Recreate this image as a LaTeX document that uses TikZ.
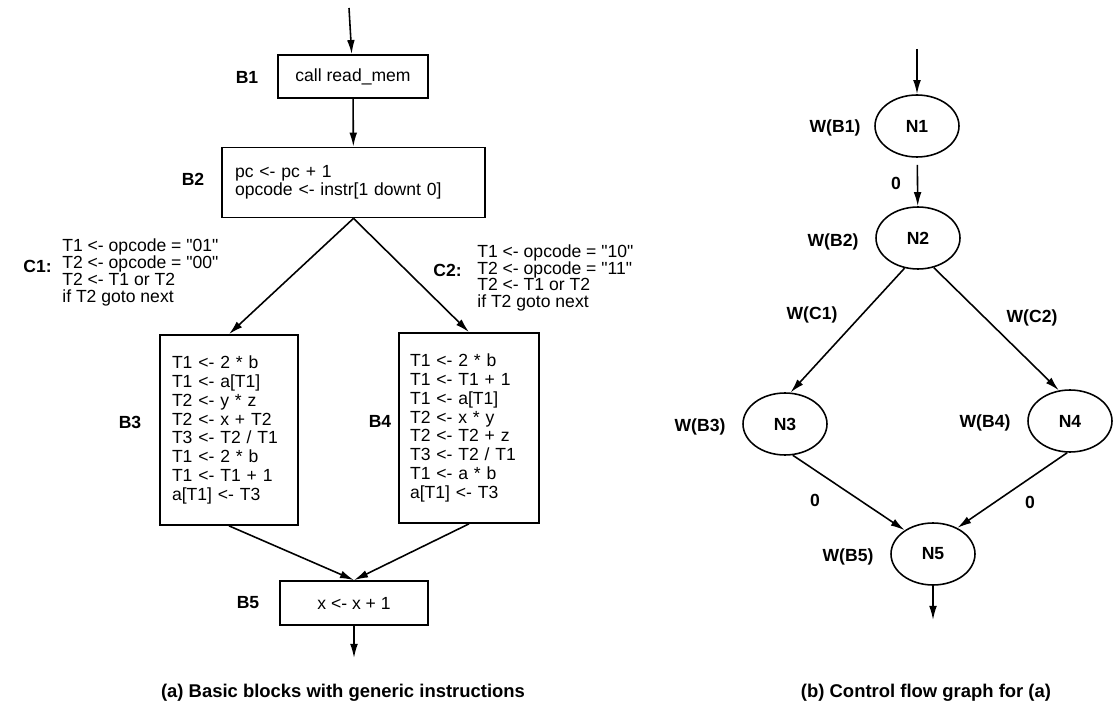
\documentclass[tikz,border=0pt]{standalone}
\usepackage{fontspec}
\setmainfont{Liberation Sans}[Ligatures=TeXOff]
\usetikzlibrary{arrows.meta,shapes.geometric}

\begin{document}
\begin{tikzpicture}[x=0.02cm,y=-0.02cm,
   blk/.style={rectangle,draw,line width=1pt,inner sep=0pt,
     font=\fontsize{10}{10.7}\selectfont},
   code/.style={blk,align=left,inner xsep=0.24cm},
   cond/.style={align=left,inner sep=0pt,anchor=west,
     font=\fontsize{10}{9.6}\selectfont},
   lbl/.style={inner sep=0pt,font=\fontsize{10}{12}\selectfont\bfseries},
   cfg/.style={ellipse,draw,line width=0.9pt,minimum width=1.68cm,
     minimum height=1.24cm,inner sep=0pt,font=\fontsize{10}{12}\selectfont\bfseries},
   ar/.style={-{Latex[length=8pt,width=4.4pt]},line width=0.9pt},
   capt/.style={inner sep=0pt,font=\fontsize{10.5}{12}\selectfont\bfseries}]

  \useasboundingbox (0,0) rectangle (1116,716);

  % (a) basic blocks
  \coordinate (in1) at (349,8);
  \node[blk,minimum width=3cm,minimum height=0.86cm] (b1) at (353,76.5)
    {call read\_mem};
  \node[code,text width=4.74cm,inner xsep=0.26cm,minimum height=1.4cm,
    font=\fontsize{10}{9.1}\selectfont] (b2) at (353.5,182.5)
    {pc <- pc + 1\\ opcode <- instr[1 downt 0]};
  \node[code,text width=2.28cm,minimum height=3.8cm] (b3) at (229,430)
    {T1 <- 2 * b\\ T1 <- a[T1]\\ T2 <- y * z\\ T2 <- x + T2\\
     T3 <- T2 / T1\\ T1 <- 2 * b\\ T1 <- T1 + 1\\ a[T1] <- T3};
  \node[code,text width=2.36cm,inner xsep=0.22cm,minimum height=3.8cm] (b4) at (469,428)
    {T1 <- 2 * b\\ T1 <- T1 + 1\\ T1 <- a[T1]\\ T2 <- x * y\\
     T2 <- T2 + z\\ T3 <- T2 / T1\\ T1 <- a * b\\ a[T1] <- T3};
  \node[blk,minimum width=2.96cm,minimum height=0.88cm] (b5) at (354,603)
    {x <- x + 1};
  \coordinate (out1) at (354,658);

  \node[lbl] (lb1) at (247,77) {B1};
  \node[lbl] (lb2) at (193,179) {B2};
  \node[lbl] (lb3) at (130,422) {B3};
  \node[lbl] (lb4) at (380,421) {B4};
  \node[lbl] (lb5) at (248,603) {B5};

  \node[cond] (c1) at (62,272.5)
    {T1 <- opcode = "01"\\ T2 <- opcode = "00"\\ T2 <- T1 or T2\\ if T2 goto next};
  \node[lbl,anchor=east] (lc1) at (52,266) {C1:};
  \node[cond] (c2) at (477,278)
    {T1 <- opcode = "10"\\ T2 <- opcode = "11"\\ T2 <- T1 or T2\\ if T2 goto next};
  \node[lbl,anchor=east] (lc2) at (462,270) {C2:};

  \draw[ar] (in1) -- (b1);
  \draw[ar] (b1) -- (b2);
  \draw[ar] (b2.south) -- (b3.north);
  \draw[ar] (b2.south) -- (b4.north);
  \draw[ar] (b3.south) -- (b5.north);
  \draw[ar] (b4.south) -- (b5.north);
  \draw[ar] (b5) -- (out1);

  \node[capt] (capa) at (343,693) {(a) Basic blocks with generic instructions};

  % (b) control flow graph
  \coordinate (in2) at (917,49);
  \node[cfg] (n1) at (917,126) {N1};
  \node[cfg] (n2) at (918,238) {N2};
  \node[cfg] (n3) at (785,424) {N3};
  \node[cfg] (n4) at (1070,421) {N4};
  \node[cfg] (n5) at (933,554) {N5};
  \coordinate (out2) at (933,620);

  \node[lbl] (w1) at (835,128) {W(B1)};
  \node[lbl] (w2) at (833,242) {W(B2)};
  \node[lbl] (w3) at (700,427) {W(B3)};
  \node[lbl] (w4) at (985,423) {W(B4)};
  \node[lbl] (w5) at (848,557) {W(B5)};
  \node[lbl] (wc1) at (812,315) {W(C1)};
  \node[lbl] (wc2) at (1032,318) {W(C2)};
  \node[lbl] (z1) at (896,183) {0};
  \node[lbl] (z3) at (815,500) {0};
  \node[lbl] (z4) at (1030,502) {0};

  \draw[ar] (in2) -- (n1);
  \draw[ar,shorten <=4pt] (n1) -- (n2);
  \draw[ar] (n2.246) -- (n3.80);
  \draw[ar] (n2.298) -- (n4.110);
  \draw[ar] (n3.284) -- (n5.140);
  \draw[ar] (n4.265) -- (n5.47);
  \draw[ar] (n5) -- (out2);

  \node[capt] (capb) at (926,693) {(b) Control flow graph for (a)};
\end{tikzpicture}
\end{document}
